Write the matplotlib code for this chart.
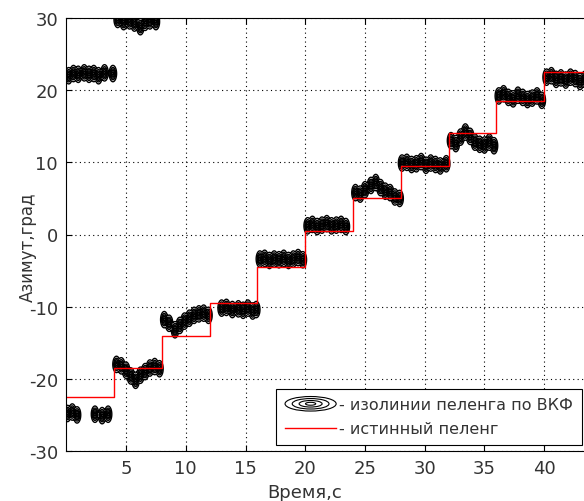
import numpy as np
import matplotlib
matplotlib.use('Agg')
from matplotlib import pyplot as plt
from matplotlib.legend_handler import HandlerBase
from matplotlib.patches import Ellipse
from matplotlib.lines import Line2D

# True bearing (step function), one value per 4-s interval
step_t = [0, 4, 8, 12, 16, 20, 24, 28, 32, 36, 40, 44]
step_az = [-22.5, -18.5, -14.0, -9.5, -4.5, 0.5, 5.0, 9.5, 14.0, 18.5, 22.5]

# Isoline clusters of the cross-correlation bearing: blob centres (time, azimuth)
ghost_a_t = [0.2, 0.6, 1.0, 1.5, 1.9, 2.3, 2.7, 3.2, 3.9]
ghost_a_az = [22.0, 22.3, 22.2, 22.4, 22.2, 22.3, 22.0, 22.4, 22.3]
ghost_b_t = [0.1, 0.5, 0.9, 2.4, 3.0, 3.5]
ghost_b_az = [-24.8, -24.6, -25.0, -24.9, -25.1, -24.9]
ghost_c_t = [4.3, 4.8, 5.3, 5.7, 6.2, 6.6, 7.0, 7.5]
ghost_c_az = [29.8, 29.5, 29.6, 29.3, 28.8, 29.4, 29.6, 29.5]
c1_t = [4.2, 4.6, 5.0, 5.4, 5.8, 6.2, 6.6, 7.0, 7.4, 7.8]
c1_az = [-18.0, -18.2, -18.8, -19.6, -20.2, -19.5, -19.0, -18.5, -18.3, -18.6]
c2_t = [8.2, 8.6, 9.1, 9.5, 9.9, 10.3, 10.7, 11.1, 11.5, 11.9]
c2_az = [-11.8, -12.3, -13.2, -12.6, -12.0, -11.6, -11.2, -11.0, -10.9, -11.2]
c3_t = [13.0, 13.4, 13.9, 14.4, 14.8, 15.2, 15.6, 15.9]
c3_az = [-10.2, -10.1, -10.4, -10.3, -10.5, -10.2, -10.6, -10.4]
c4_t = [16.2, 16.6, 17.0, 17.4, 17.8, 18.2, 18.6, 19.0, 19.4, 19.8]
c4_az = [-3.4, -3.3, -3.6, -3.4, -3.5, -3.3, -3.6, -3.4, -3.2, -3.5]
c5_t = [20.2, 20.6, 21.0, 21.4, 21.8, 22.2, 22.6, 23.0, 23.4]
c5_az = [1.2, 1.4, 1.1, 1.3, 1.5, 1.2, 1.3, 1.4, 1.1]
c6_t = [24.2, 24.6, 25.0, 25.5, 25.9, 26.3, 26.7, 27.1, 27.5, 27.9]
c6_az = [5.8, 5.6, 6.2, 6.8, 7.2, 6.5, 6.0, 5.8, 5.2, 5.0]
c7_t = [28.1, 28.5, 28.9, 29.3, 29.7, 30.1, 30.5, 30.9, 31.3, 31.8]
c7_az = [9.9, 10.0, 9.7, 9.8, 10.1, 9.6, 9.9, 9.7, 9.5, 9.8]
c8_t = [32.2, 32.6, 33.0, 33.4, 33.8, 34.2, 34.6, 35.0, 35.4, 35.8]
c8_az = [13.0, 12.6, 13.5, 14.2, 13.6, 12.8, 12.5, 12.4, 12.8, 12.3]
c9_t = [36.2, 36.6, 37.0, 37.4, 37.8, 38.2, 38.6, 39.0, 39.4, 39.8]
c9_az = [19.2, 19.5, 19.0, 18.8, 19.3, 19.0, 18.7, 18.9, 19.2, 18.6]
c10_t = [40.2, 40.6, 41.0, 41.4, 41.8, 42.2, 42.6, 43.0, 43.4]
c10_az = [21.8, 22.0, 21.5, 21.7, 21.4, 21.8, 21.6, 21.2, 21.5]

x_ticks = [5, 10, 15, 20, 25, 30, 35, 40]
y_ticks = [-30, -20, -10, 0, 10, 20, 30]

blob_t = np.array(ghost_a_t + ghost_b_t + ghost_c_t + c1_t + c2_t + c3_t + c4_t
                  + c5_t + c6_t + c7_t + c8_t + c9_t + c10_t)
blob_az = np.array(ghost_a_az + ghost_b_az + ghost_c_az + c1_az + c2_az + c3_az + c4_az
                   + c5_az + c6_az + c7_az + c8_az + c9_az + c10_az)

plt.rcParams['font.family'] = ['DejaVu Sans']
plt.rcParams['axes.unicode_minus'] = False

fig = plt.figure(figsize=(5.84, 5.02), dpi=100)
ax = fig.add_axes([66.3 / 584, 50 / 502, (592 - 66.3) / 584, 433 / 502])

# bearing field built from the cluster centres, drawn as isolines
tt, aa = np.meshgrid(np.linspace(0, 44, 1500), np.linspace(-30, 32, 900))
field = np.zeros_like(tt)
for t0, a0 in zip(blob_t, blob_az):
	field = np.maximum(field, np.exp(-0.5 * ((tt - t0) / 0.15) ** 2 - 0.5 * ((aa - a0) / 0.55) ** 2))
ax.contour(tt, aa, field, levels=[0.12, 0.3, 0.5, 0.7, 0.9], colors='k', linewidths=1.0)

ax.step(step_t, step_az + [step_az[-1]], where='post', color='red', lw=1.0)

ax.set_xlim(0, 44)
ax.set_ylim(-30, 30)
ax.set_xticks(x_ticks)
ax.set_yticks(y_ticks)
ax.grid(True, color='k', linestyle=(0, (1, 3)), lw=0.8)
ax.tick_params(direction='in', top=True, right=True, length=4, labelsize=13, pad=6,
	labelcolor='#333333')
for s in ax.spines.values():
	s.set_linewidth(0.8)
ax.set_xlabel('Время,с', fontsize=13, color='#333333')
ax.set_ylabel('Азимут,град', fontsize=12, color='#333333')
ax.xaxis.set_label_coords(0.454, -0.075)
ax.yaxis.set_label_coords(-0.056, 0.473)

class RingsHandler(HandlerBase):
	def create_artists(self, legend, orig, xd, yd, width, height, fontsize, trans):
		out = []
		cx, cy = xd + width / 2, yd + height / 2
		for k in (1.0, 0.72, 0.45, 0.2):
			out.append(Ellipse((cx, cy), width * k, height * 1.3 * k, fill=False,
				edgecolor='k', lw=0.8, transform=trans))
		return out

ring_proxy = Line2D([], [], color='k')
line_proxy = Line2D([], [], color='red', lw=1.0)
leg = ax.legend([ring_proxy, line_proxy], ['- изолинии пеленга по ВКФ', '- истинный пеленг'],
	handler_map={ring_proxy: RingsHandler()}, loc='lower right', bbox_to_anchor=(0.981, 0.014),
	borderaxespad=0, fontsize=11.5, fancybox=False, edgecolor='k', framealpha=1,
	handlelength=3.2, handletextpad=0.2, borderpad=0.55, labelspacing=0.55,
	labelcolor='#333333')
leg.get_frame().set_linewidth(0.8)

fig.savefig('out.png', dpi=100)
